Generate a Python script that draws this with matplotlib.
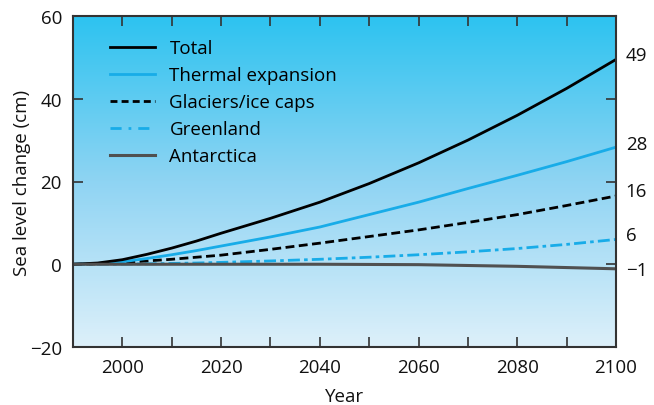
import matplotlib
matplotlib.use("Agg")
import matplotlib.pyplot as plt
import numpy as np
from matplotlib.colors import LinearSegmentedColormap
from matplotlib.lines import Line2D

plt.rcParams['font.family'] = ['Open Sans', 'DejaVu Sans']

years = [1990, 1995, 2000, 2005, 2010, 2015, 2020, 2030, 2040, 2050, 2060, 2070, 2080, 2090, 2100]
total = [0, 0.3, 1.1, 2.4, 3.9, 5.6, 7.5, 11.1, 15.0, 19.5, 24.5, 30.0, 36.0, 42.5, 49.5]
thermal = [0, 0.2, 0.6, 1.4, 2.3, 3.3, 4.4, 6.6, 9.0, 12.0, 15.0, 18.3, 21.5, 24.8, 28.3]
glaciers = [0, 0.1, 0.4, 0.8, 1.2, 1.7, 2.2, 3.6, 5.1, 6.7, 8.3, 10.1, 12.0, 14.2, 16.5]
greenland = [0, 0.02, 0.05, 0.1, 0.2, 0.3, 0.45, 0.8, 1.2, 1.7, 2.3, 3.0, 3.8, 4.8, 6.0]
antarctica = [0, 0, 0, 0, 0, 0, 0, 0, 0, -0.05, -0.1, -0.3, -0.5, -0.8, -1.1]
end_labels = ["49", "28", "16", "6", "\u22121"]
end_values = [49, 28, 16, 6, -1]
end_offsets = [5, 3, 5, 3, -1]

BLUE = '#18ACE8'
FS = 13.5

fig = plt.figure(figsize=(6.54, 4.06), dpi=100)
ax = fig.add_axes([73/654, 1-348/406, (616-73)/654, (348-17)/406])
ax.set_xlim(1990, 2100)
ax.set_ylim(-20, 60)

cmap = LinearSegmentedColormap.from_list('bg', ['#DDF0FA', '#8FD4F3', '#2DC3F0'])
grad = np.linspace(0, 1, 256).reshape(-1, 1)
ax.imshow(grad, cmap=cmap, origin='lower', aspect='auto',
          extent=[1990, 2100, -20, 60], zorder=0)

ax.plot(years, greenland, color=BLUE, lw=2.0, dashes=(4.3, 1.5, 1.3, 1.5), zorder=3)
ax.plot(years, glaciers, color='black', lw=2.0, dashes=(3.2, 1.6), zorder=3)
ax.plot(years, thermal, color=BLUE, lw=2.0, zorder=3)
ax.plot(years, total, color='black', lw=2.0, zorder=3)
ax.plot(years, antarctica, color='#505050', lw=2.2, zorder=3)

handles = [
    Line2D([], [], color='black', lw=2.0),
    Line2D([], [], color=BLUE, lw=2.0),
    Line2D([], [], color='black', lw=2.0, dashes=(2.5, 1.5)),
    Line2D([], [], color=BLUE, lw=2.0, dashes=(4, 2.5, 1, 2.5)),
    Line2D([], [], color='#505050', lw=2.2),
]
labels = ['Total', 'Thermal expansion', 'Glaciers/ice caps', 'Greenland', 'Antarctica']
ax.legend(handles, labels, loc='upper left', bbox_to_anchor=(0.055, 0.952),
          frameon=False, fontsize=FS, handlelength=2.4, handletextpad=0.75,
          labelspacing=0.48, borderaxespad=0)

for lab, v, off in zip(end_labels, end_values, end_offsets):
    ax.annotate(lab, xy=(1.0, v), xycoords=ax.get_yaxis_transform(),
                xytext=(7, off), textcoords='offset points',
                va='center', ha='left', fontsize=FS, color='#111111')

ax.set_xticks([2000, 2020, 2040, 2060, 2080, 2100])
ax.set_xticks(np.arange(2000, 2100, 10), minor=True)
ax.set_yticks([-20, 0, 20, 40, 60])
ax.tick_params(axis='both', which='both', direction='in', length=7, width=1.2,
               color='#333333', labelsize=FS, labelcolor='#111111')
ax.tick_params(axis='x', which='both', top=True, bottom=True, pad=8)
ax.tick_params(axis='y', which='both', left=True, right=True, pad=8)
for s in ax.spines.values():
    s.set_color('#333333')
    s.set_linewidth(1.5)
    s.set_zorder(5)

ax.set_xlabel('Year', fontsize=FS, color='#111111', labelpad=8)
ax.set_ylabel('Sea level change (cm)', fontsize=FS, color='#111111', labelpad=-1)

fig.savefig('out.png', dpi=100)
